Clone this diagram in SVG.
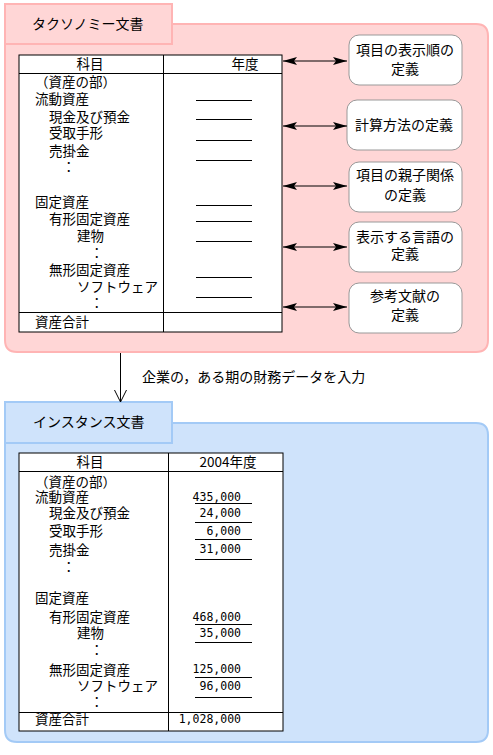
<svg xmlns="http://www.w3.org/2000/svg" width="493" height="755" viewBox="0 0 493 755">
<style>
text{font-family:"Noto Sans CJK JP","Noto Sans",sans-serif;font-size:13.5px;fill:#000}
.bx{font-size:14px;text-anchor:middle}
.tab{font-size:14px}
.num{font-family:"DejaVu Sans Mono","Liberation Mono",monospace;font-size:11.5px;text-anchor:end}
.mid{text-anchor:middle}
.pk{fill:#ffd6d6;stroke:#ffb4b4;stroke-width:2}
.bl{fill:#cfe3fb;stroke:#a3caf6;stroke-width:2}
.tbl{fill:#fff;stroke:#000;stroke-width:1}
.ln{stroke:#000;stroke-width:1;fill:none}
.box{fill:#fff;stroke:#999;stroke-width:1}
</style>
<defs>
<marker id="ah" viewBox="0 0 14 8" refX="14" refY="4" markerWidth="14" markerHeight="8" markerUnits="userSpaceOnUse" orient="auto-start-reverse">
<path d="M0,0 L14,4 L0,8 L3,4 Z" fill="#000"/>
</marker>
</defs>

<g id="taxonomy">
<path class="pk" d="M5,24 H476 Q488,24 488,36 V340 Q488,352 476,352 H17 Q5,352 5,340 Z"/>
<rect class="pk" x="5" y="4" width="167" height="40"/>
<text class="tab" x="32" y="29">タクソノミー文書</text>
<rect class="tbl" x="19" y="55" width="263" height="277"/>
<path class="ln" d="M19,73.5 H282 M163.5,55 V332 M19,312.5 H282"/>
<path class="ln" d="M196,100.5 H252 M196,119.5 H252 M196,140.5 H252 M196,160.5 H252 M196,205.5 H252 M196,221.5 H252 M196,241.5 H252 M196,277.5 H252 M196,297.5 H252"/>
<text class="mid" x="90" y="69">科目</text>
<text class="mid" x="245" y="69">年度</text>
<text x="35" y="87">（資産の部）</text>
<text x="35" y="104">流動資産</text>
<text x="49" y="122">現金及び預金</text>
<text x="49" y="138">受取手形</text>
<text x="49" y="156">売掛金</text>
<text x="62" y="172">：</text>
<text x="35" y="207">固定資産</text>
<text x="49" y="224">有形固定資産</text>
<text x="77" y="241">建物</text>
<text x="90" y="258">：</text>
<text x="49" y="275">無形固定資産</text>
<text x="77" y="292">ソフトウェア</text>
<text x="90" y="308">：</text>
<text x="35" y="327">資産合計</text>
</g>

<g id="box1"><rect class="box" x="349" y="35" width="113" height="50" rx="10"/>
<text class="bx" x="405" y="55">項目の表示順の</text><text class="bx" x="405" y="74">定義</text></g>
<g id="box2"><rect class="box" x="347" y="100" width="115" height="50" rx="10"/>
<text class="bx" x="404" y="130">計算方法の定義</text></g>
<g id="box3"><rect class="box" x="349" y="162" width="113" height="50" rx="10"/>
<text class="bx" x="405" y="180">項目の親子関係</text><text class="bx" x="405" y="200">の定義</text></g>
<g id="box4"><rect class="box" x="349" y="222" width="113" height="50" rx="10"/>
<text class="bx" x="405" y="242">表示する言語の</text><text class="bx" x="405" y="259">定義</text></g>
<g id="box5"><rect class="box" x="349" y="283" width="113" height="50" rx="10"/>
<text class="bx" x="405" y="301">参考文献の</text><text class="bx" x="405" y="320">定義</text></g>

<g id="instance">
<path class="bl" d="M5,423 H476 Q488,423 488,435 V730 Q488,742 476,742 H17 Q5,742 5,730 Z"/>
<rect class="bl" x="5" y="402" width="167" height="41"/>
<text class="tab" x="33" y="427">インスタンス文書</text>
<rect class="tbl" x="19" y="453" width="264" height="278"/>
<path class="ln" d="M19,471.5 H283 M168.5,453 V731 M19,712.5 H283"/>
<path class="ln" d="M195,503.5 H252 M195,522.5 H252 M195,539.5 H252 M195,559.5 H252 M195,624.5 H252 M195,642.5 H252 M195,677.5 H252 M195,697.5 H252"/>
<text class="mid" x="90" y="467">科目</text>
<text class="mid" x="228" y="467">2004年度</text>
<text x="35" y="487">（資産の部）</text>
<text x="35" y="502">流動資産</text>
<text x="49" y="518">現金及び預金</text>
<text x="49" y="536">受取手形</text>
<text x="49" y="555">売掛金</text>
<text x="62" y="572">：</text>
<text x="35" y="603">固定資産</text>
<text x="49" y="622">有形固定資産</text>
<text x="77" y="638">建物</text>
<text x="90" y="655">：</text>
<text x="49" y="675">無形固定資産</text>
<text x="77" y="691">ソフトウェア</text>
<text x="90" y="707">：</text>
<text x="35" y="724">資産合計</text>
<text class="num" x="241" y="501">435,000</text>
<text class="num" x="241" y="517">24,000</text>
<text class="num" x="241" y="535">6,000</text>
<text class="num" x="241" y="553">31,000</text>
<text class="num" x="241" y="621">468,000</text>
<text class="num" x="241" y="637">35,000</text>
<text class="num" x="241" y="673">125,000</text>
<text class="num" x="241" y="690">96,000</text>
<text class="num" x="241" y="723">1,028,000</text>
</g>

<g id="connectors">
<line class="ln" x1="283" y1="61" x2="347" y2="61" marker-start="url(#ah)" marker-end="url(#ah)"/>
<line class="ln" x1="283" y1="126" x2="347" y2="126" marker-start="url(#ah)" marker-end="url(#ah)"/>
<line class="ln" x1="283" y1="186" x2="347" y2="186" marker-start="url(#ah)" marker-end="url(#ah)"/>
<line class="ln" x1="283" y1="247" x2="347" y2="247" marker-start="url(#ah)" marker-end="url(#ah)"/>
<line class="ln" x1="283" y1="307" x2="347" y2="307" marker-start="url(#ah)" marker-end="url(#ah)"/>
<path class="ln" d="M120.5,353 V402 M114.5,390 L120.5,402 L126.5,390"/>
<text x="142" y="382" style="font-size:14px">企業の，ある期の財務データを入力</text>
</g>
</svg>
